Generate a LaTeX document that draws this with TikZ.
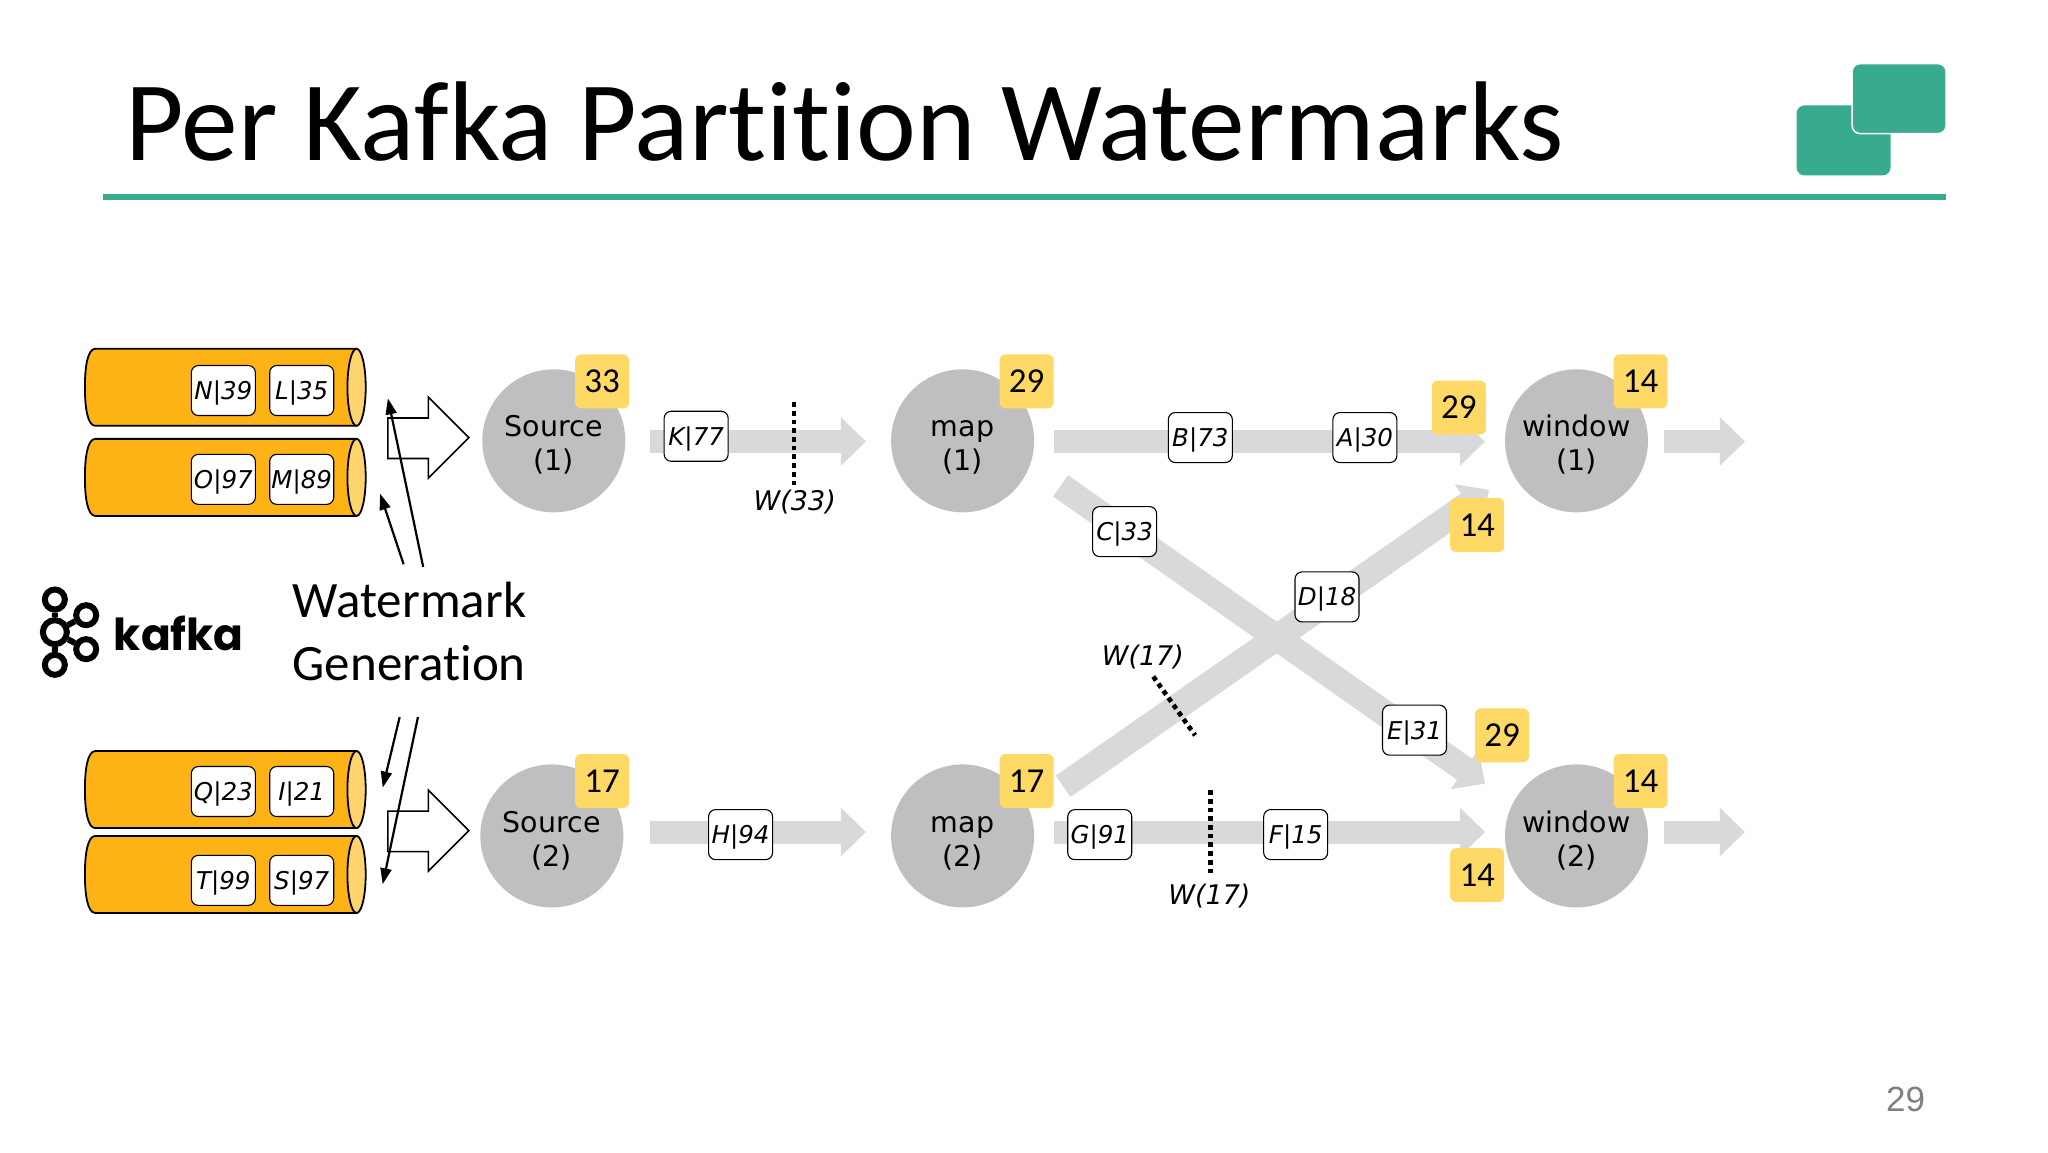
\documentclass[tikz,border=0pt]{standalone}
\usepackage{fontspec}
\setmainfont[Ligatures=NoCommon]{Carlito}
\newfontfamily\vfont{DejaVu Sans}
\newfontfamily\popfont{Poppins}
\newfontfamily\numfont{Liberation Sans}
\usetikzlibrary{arrows.meta}
\definecolor{teal1}{HTML}{38AB8E}
\definecolor{orange1}{HTML}{FDB215}
\definecolor{orange2}{HTML}{FFD36E}
\definecolor{gray1}{HTML}{BFBFBF}
\definecolor{gray2}{HTML}{D9D9DB}
\definecolor{yellow1}{HTML}{FFD966}
\newcommand{\opline}{\rule{0pt}{30pt}}
\tikzset{
  x=1.30612pt,y=-1.30612pt,
  msg/.style={draw=black,line width=1.1pt,fill=white,rounded corners=7pt,minimum width=64pt,minimum height=50pt,inner sep=0pt,text height=18pt,text depth=0pt,font=\vfont\itshape\fontsize{24.5}{26}\selectfont},
  wm/.style={inner sep=0pt,font=\vfont\itshape\fontsize{27}{30}\selectfont},
  op/.style={circle,fill=gray1,minimum size=143pt,inner sep=0pt,align=center,font=\vfont\fontsize{28.5}{34}\selectfont},
  badge/.style={fill=yellow1,rounded corners=6pt,minimum width=54pt,minimum height=54pt,inner sep=0pt,font=\fontsize{35}{40}\selectfont},
  flow/.style={draw=gray2,line width=23pt,-{Triangle[length=25pt,width=47pt,fill=gray2]}},
  dots/.style={draw=black,line width=4.7pt,dash pattern=on 4.7pt off 4pt},
  bigarrow/.style={draw=black,line width=1.6pt,fill=white,line join=miter},
  pointer/.style={draw=black,line width=2.2pt,-{Triangle[length=16pt,width=11pt]}},
  kring/.style={circle,draw=black,line width=6pt,fill=white,inner sep=0pt},
  logobox/.style={fill=teal1,rounded corners=8pt,minimum width=94pt,minimum height=70pt,inner sep=0pt},
  cylend/.style={draw=black,line width=1.8pt,fill=orange2},
  cylbody/.style={draw=black,line width=1.8pt,fill=orange1},
}
\newcommand{\kcyl}[1]{%
  \begin{scope}[shift={(0,#1)}]
    \draw[cylbody] (273,0) -- (73,0) .. controls (67,0) and (65,14) .. (65,29.5) .. controls (65,45) and (67,59) .. (73,59) -- (273,59) -- cycle;
    \draw[cylend] (273,29.5) ellipse [x radius=7,y radius=29.5];
  \end{scope}}
\begin{document}
\begin{tikzpicture}
\useasboundingbox[fill=white] (0,0) rectangle (1568,882);
% title
\node[anchor=base west,inner sep=0pt,font=\fontsize{113.4}{120}\selectfont] (title) at (96,123) {Per Kafka Partition Watermarks};
\fill[teal1] (79,148.5) rectangle (1490,153);
\node[logobox] (logoa) at (1411.5,107.5) {};
\node[logobox,draw=white,line width=1.5pt] (logob) at (1454,75.5) {};
% cylinders
\kcyl{267}\kcyl{336}\kcyl{575}\kcyl{640}
\node[msg] (n39) at (171,299) {N|39};
\node[msg] (l35) at (231,299) {L|35};
\node[msg] (o97) at (171,367) {O|97};
\node[msg] (m89) at (231,367) {M|89};
\node[msg] (q23) at (171,606) {Q|23};
\node[msg] (i21) at (231,606) {I|21};
\node[msg] (t99) at (171,674) {T|99};
\node[msg] (s97) at (231,674) {S|97};
% operators
\node[op] (s1) at (424,337.5) {\opline Source\\(1)};
\node[op] (s2) at (422.5,640) {\opline Source\\(2)};
\node[op] (m1) at (737,337.5) {\opline map\\(1)};
\node[op] (m2) at (737,640) {\opline map\\(2)};
\node[op] (w1) at (1207,337.5) {\opline window\\(1)};
\node[op] (w2) at (1207,640) {\opline window\\(2)};
% flows
\coordinate (a1) at (498,338); \coordinate (a2) at (663,338);
\coordinate (b1) at (498,637); \coordinate (b2) at (663,637);
\coordinate (c1) at (807,338); \coordinate (c2) at (1137,338);
\coordinate (d1) at (807,637); \coordinate (d2) at (1137,637);
\coordinate (e1) at (1274,338); \coordinate (e2) at (1336,338);
\coordinate (f1) at (1274,637); \coordinate (f2) at (1336,637);
\coordinate (g1) at (812,372); \coordinate (g2) at (1137,600);
\coordinate (h1) at (814,602); \coordinate (h2) at (1140,375);
\foreach \p/\q in {a1/a2,b1/b2,c1/c2,d1/d2,e1/e2,f1/f2}
  \draw[flow] (\p) -- (\q);
\foreach \p/\q in {g1/g2,h1/h2}
  \draw[flow,line width=26pt] (\p) -- (\q);
% messages on flows
\node[msg] (k77) at (533,334) {K|77};
\node[msg] (h94) at (567,639) {H|94};
\node[msg] (b73) at (919,335) {B|73};
\node[msg] (a30) at (1045,335) {A|30};
\node[msg] (c33) at (861,407) {C|33};
\node[msg] (d18) at (1016,457) {D|18};
\node[msg] (e31) at (1083,559) {E|31};
\node[msg] (g91) at (842,639) {G|91};
\node[msg] (f15) at (992,639) {F|15};
% watermarks
\coordinate (p1) at (608,308); \coordinate (p2) at (608,372);
\coordinate (p3) at (927,605); \coordinate (p4) at (927,670);
\coordinate (p5) at (883,518); \coordinate (p6) at (915,563);
\draw[dots] (p1) -- (p2);
\draw[dots] (p3) -- (p4);
\draw[dots] (p5) -- (p6);
\node[wm] (w33) at (608.5,384) {W(33)};
\node[wm] (w17a) at (926,686) {W(17)};
\node[wm] (w17b) at (875,503) {W(17)};
% badges
\node[badge] (b33) at (461,292) {33};
\node[badge] (b17) at (461,598) {17};
\node[badge] (b29) at (786,292) {29};
\node[badge] (b17m) at (786,598) {17};
\node[badge] (b14a) at (1256,292) {14};
\node[badge] (b14b) at (1256,598) {14};
\node[badge] (c29a) at (1117,312) {29};
\node[badge] (c14a) at (1131,402) {14};
\node[badge] (c29b) at (1150,563) {29};
\node[badge] (c14b) at (1131,670) {14};
% block arrows
\draw[bigarrow] (297,320) -- (328,320) -- (328,304) -- (359,335) -- (328,366) -- (328,351) -- (297,351) -- cycle;
\draw[bigarrow] (297,621) -- (328,621) -- (328,605) -- (359,636) -- (328,667) -- (328,652) -- (297,652) -- cycle;
% pointers
\coordinate (q1) at (324,434); \coordinate (q2) at (297,305);
\coordinate (q3) at (309,432); \coordinate (q4) at (291,378);
\coordinate (q5) at (320,549); \coordinate (q6) at (293,677);
\coordinate (q7) at (306,549); \coordinate (q8) at (293,603);
\draw[pointer] (q1) -- (q2);
\draw[pointer] (q3) -- (q4);
\draw[pointer] (q5) -- (q6);
\draw[pointer] (q7) -- (q8);
% label
\node[anchor=base west,inner sep=0pt,font=\fontsize{51}{62}\selectfont] (wg1) at (224,473) {Watermark};
\node[anchor=base west,inner sep=0pt,font=\fontsize{51}{62}\selectfont] (wg2) at (224,521) {Generation};
% kafka logo
\node[kring,minimum size=20pt] (k1) at (42,459) {};
\node[kring,minimum size=20pt] (k3) at (42,509) {};
\node[kring,minimum size=20pt] (k4) at (66,471) {};
\node[kring,minimum size=20pt] (k5) at (66,497) {};
\node[kring,minimum size=24pt] (k2) at (42,484) {};
\draw[black,line width=6pt] (k1) -- (k2) (k2) -- (k3) (k2) -- (k4) (k2) -- (k5);
\node[anchor=base west,inner sep=0pt,font=\popfont\bfseries\fontsize{44}{50}\selectfont] (kaf) at (87,498) {kafka};
% page number
\node[inner sep=0pt,text=black!50,font=\numfont\fontsize{35}{38}\selectfont] (pg) at (1459,842) {29};
\end{tikzpicture}
\end{document}
